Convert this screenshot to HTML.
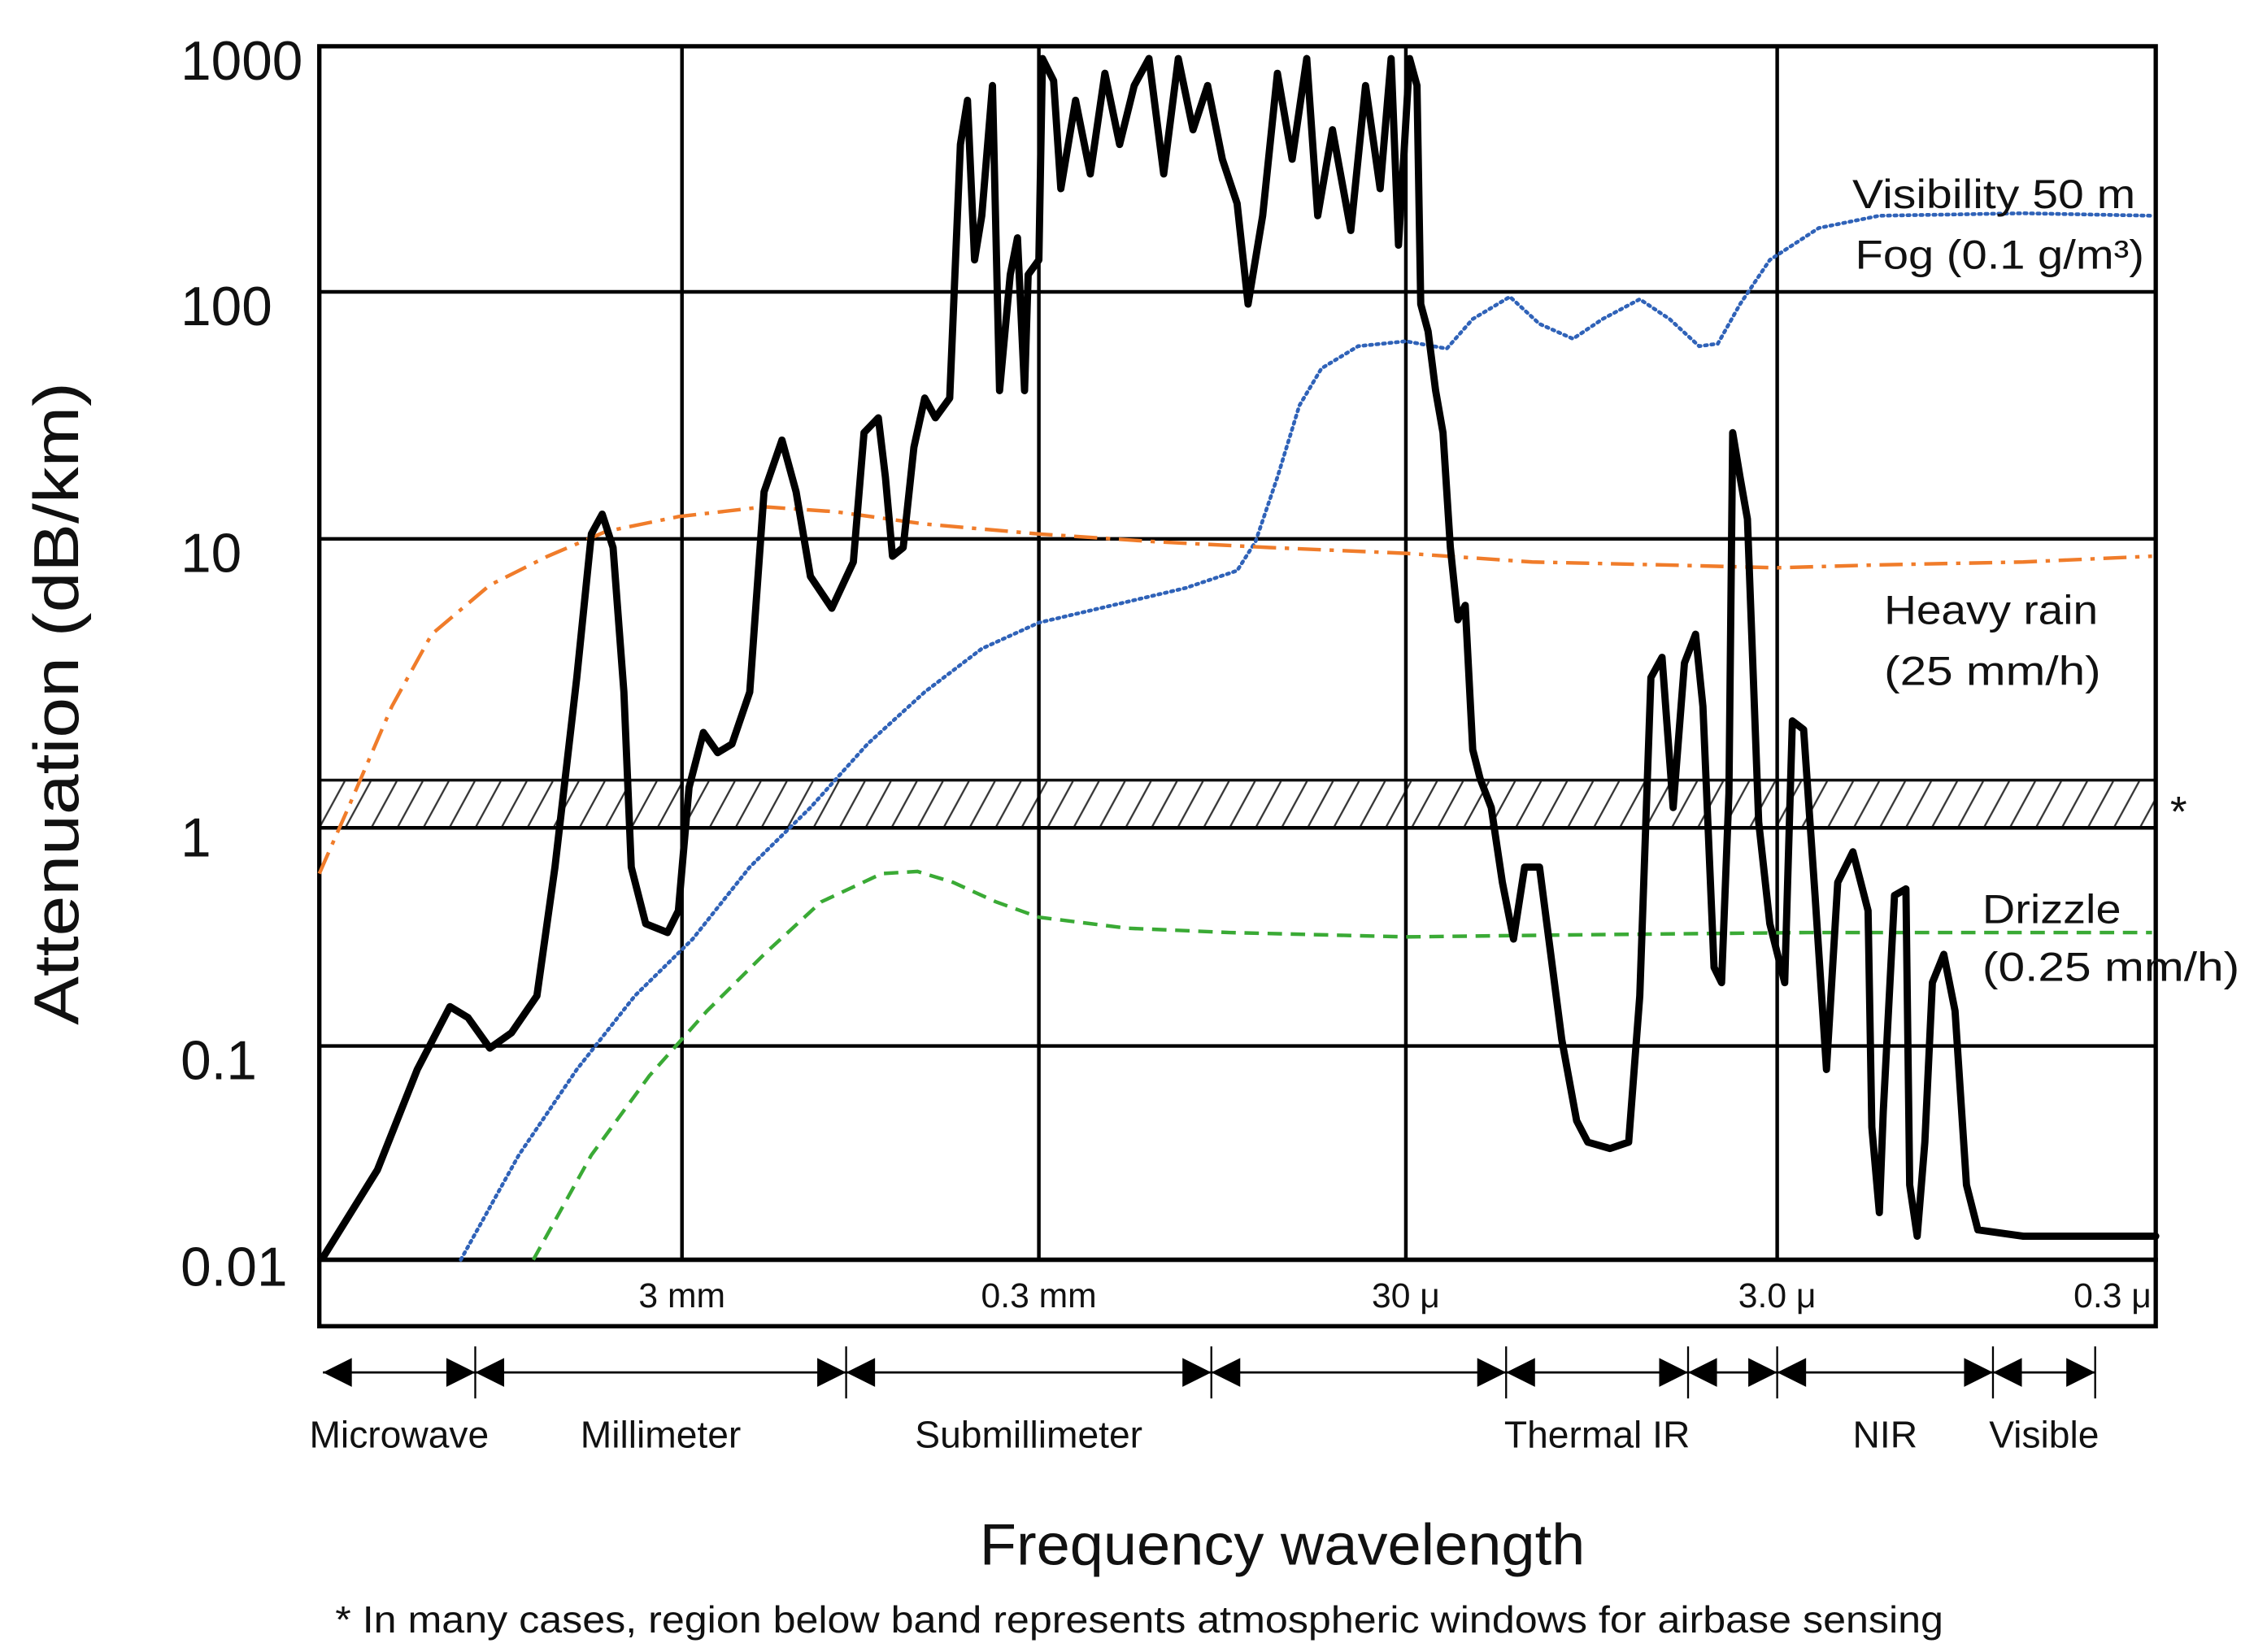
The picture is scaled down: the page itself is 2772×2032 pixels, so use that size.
<!DOCTYPE html>
<html><head><meta charset="utf-8"><style>
html,body{margin:0;padding:0;background:#fff;}
svg{display:block;}
text{font-family:"Liberation Sans",sans-serif;fill:#111;}
</style></head><body>
<svg id="chart" width="2772" height="2032" viewBox="0 0 1560 1143.5" xmlns="http://www.w3.org/2000/svg">
<defs>
<pattern id="hatch" patternUnits="userSpaceOnUse" width="18" height="33" x="221" y="540">
<line x1="0" y1="33" x2="18" y2="0" stroke="#333" stroke-width="1.3"/>
</pattern>
</defs>
<g id="grid"></g>
<g id="series"></g>
<g id="labels"></g>
</svg>
<script>
// Axis data
const yTickValues = [1000, 100, 10, 1, 0.1, 0.01];
const yTickLabels = ["1000", "100", "10", "1", "0.1", "0.01"];
const xTickPositions = [1, 2, 3, 4, 5];
const xTickLabels = ["3 mm", "0.3 mm", "30 \u03bc", "3.0 \u03bc", "0.3 \u03bc"];
const bandNames = ["Microwave", "Millimeter", "Submillimeter", "", "Thermal IR", "", "NIR", "Visible"];
const bandEdges = [0.01, 0.43, 1.46, 2.47, 3.27, 3.76, 4.0, 4.57, 4.84];

// Series (u = wavelength-axis position, values = log10 attenuation in dB/km)
const gasU = [0.01,0.16,0.27,0.36,0.41,0.47,0.53,0.60,0.65,0.71,0.75,0.78,0.81,0.84,0.86,0.90,0.96,0.99,1.02,1.06,1.10,1.14,1.19,1.23,1.28,1.32,1.36,1.42,1.48,1.51,1.55,1.57,1.59,1.62,1.65,1.68,1.71,1.75,1.78,1.80,1.82,1.84,1.87,1.89,1.92,1.94,1.96,1.97,2.00,2.01,2.04,2.06,2.10,2.14,2.18,2.22,2.26,2.30,2.34,2.38,2.42,2.46,2.50,2.54,2.57,2.61,2.65,2.69,2.73,2.76,2.80,2.85,2.89,2.93,2.96,2.98,3.01,3.03,3.04,3.06,3.08,3.10,3.12,3.14,3.16,3.18,3.20,3.23,3.26,3.29,3.32,3.36,3.42,3.46,3.49,3.55,3.60,3.63,3.66,3.69,3.72,3.75,3.78,3.80,3.83,3.85,3.87,3.88,3.90,3.92,3.95,3.98,4.02,4.04,4.07,4.10,4.13,4.16,4.20,4.24,4.25,4.27,4.28,4.31,4.34,4.35,4.37,4.39,4.41,4.44,4.47,4.50,4.53,4.65,5.0];
const gasLog = [-1.99,-1.58,-1.11,-0.82,-0.87,-1.01,-0.94,-0.77,-0.18,0.52,1.02,1.10,0.97,0.47,-0.18,-0.44,-0.48,-0.38,0.14,0.33,0.26,0.29,0.47,1.19,1.40,1.19,0.87,0.76,0.92,1.43,1.49,1.25,0.94,0.97,1.37,1.57,1.49,1.57,2.60,2.78,2.13,2.31,2.84,1.60,2.07,2.22,1.60,2.07,2.13,2.95,2.86,2.42,2.78,2.48,2.89,2.60,2.84,2.95,2.48,2.95,2.66,2.84,2.54,2.36,1.95,2.31,2.89,2.54,2.95,2.31,2.66,2.25,2.84,2.42,2.95,2.19,2.95,2.84,1.95,1.84,1.60,1.43,0.97,0.72,0.77,0.27,0.17,0.07,-0.25,-0.51,-0.18,-0.18,-0.97,-1.35,-1.45,-1.48,-1.45,-0.77,0.52,0.59,0.07,0.57,0.67,0.42,-0.64,-0.71,0.12,1.43,1.25,1.08,0.02,-0.44,-0.71,0.37,0.34,-0.31,-1.11,-0.25,-0.11,-0.38,-1.38,-1.78,-1.31,-0.31,-0.28,-1.65,-1.89,-1.45,-0.71,-0.58,-0.84,-1.65,-1.86,-1.89,-1.89];
const rainU = [0,0.08,0.20,0.31,0.47,0.63,0.79,0.99,1.23,1.43,1.68,2.00,2.32,2.63,3.0,3.34,3.69,4.0,4.27,4.65,4.99];
const rainLog = [-0.21,0.07,0.42,0.67,0.84,0.94,1.03,1.09,1.13,1.11,1.06,1.02,0.99,0.97,0.95,0.92,0.91,0.90,0.91,0.92,0.94];
const fogU = [0.39,0.55,0.71,0.87,1.03,1.19,1.36,1.52,1.68,1.84,2.00,2.20,2.40,2.54,2.59,2.65,2.71,2.77,2.87,3.0,3.11,3.18,3.28,3.36,3.45,3.53,3.63,3.71,3.79,3.84,3.90,3.98,4.11,4.27,4.65,4.99];
const fogLog = [-2,-1.51,-1.11,-0.77,-0.51,-0.18,0.07,0.29,0.47,0.62,0.71,0.77,0.83,0.89,0.99,1.25,1.54,1.69,1.78,1.80,1.77,1.89,1.98,1.87,1.81,1.89,1.97,1.89,1.78,1.79,1.95,2.13,2.26,2.31,2.32,2.31];
const drizzleU = [0.59,0.75,0.91,1.07,1.23,1.39,1.56,1.66,1.76,1.88,2.0,2.24,2.52,3.0,3.49,4.08,4.99];
const drizzleLog = [-2,-1.51,-1.14,-0.84,-0.58,-0.34,-0.21,-0.20,-0.25,-0.34,-0.41,-0.46,-0.48,-0.50,-0.49,-0.48,-0.48];

// Axis geometry (hand-drawn, piecewise)
const GX = [221, 472, 719, 973, 1230, 1492];
const GY = [872, 724, 573, 373, 202, 32]; // log10 -2..3
function xs(u){ u=Math.max(0,Math.min(5,u)); const i=Math.min(4,Math.floor(u)); return GX[i]+(u-i)*(GX[i+1]-GX[i]); }
function ys(l){ const t=l+2; const c=Math.max(0,Math.min(5,t)); const i=Math.min(4,Math.floor(c)); return GY[i]+(c-i)*(GY[i+1]-GY[i]); }
const NS="http://www.w3.org/2000/svg";
function mk(tag, attrs, parent){ const e=document.createElementNS(NS,tag); for(const k in attrs) e.setAttribute(k,attrs[k]); parent.appendChild(e); return e; }
const grid=document.getElementById('grid'), ser=document.getElementById('series'), lab=document.getElementById('labels');

// hatched band
let band=mk('rect',{x:221,y:540,width:1271,height:33,fill:'url(#hatch)',stroke:'#111','stroke-width':2},grid);


// horizontal grid lines
yTickValues.forEach((v,i)=>{
  const y=ys(Math.log10(v));
  const l=mk('line',{x1:221,x2:1492,y1:y,y2:y,stroke:'#000','stroke-width':2.5},grid);
  
  
  const t=mk('text',{x:125,y:y+(i===0?23:i===3?20:i===5?18:23),'font-size':38},lab);
  t.textContent=yTickLabels[i];
  
  
});
// vertical grid lines
xTickPositions.forEach((u,i)=>{
  const x=xs(u);
  if(u<5){
    const l=mk('line',{x1:x,x2:x,y1:32,y2:872,stroke:'#000','stroke-width':2.5},grid);
    
    
  }
  const t=mk('text',{x:(u<5?x:x-3),y:905,'font-size':24,'text-anchor':(u<5?'middle':'end')},lab);
  t.textContent=xTickLabels[i];
  
  
});
let frame=mk('rect',{x:221,y:32,width:1271,height:840,fill:'none',stroke:'#000','stroke-width':3},grid);


let wbox=mk('rect',{x:221,y:872,width:1271,height:46,fill:'none',stroke:'#000','stroke-width':3},grid);



function path(U,L,attrs,name){
  let d=''; U.forEach((u,i)=>{ d+=(i?'L':'M')+xs(u).toFixed(1)+' '+ys(L[i]).toFixed(1); });
  attrs.d=d; attrs.fill='none';
  const p=mk('path',attrs,ser);
  
  
}
path(drizzleU,drizzleLog,{stroke:'#3aaa35','stroke-width':2.5,'stroke-dasharray':'10 6'},'drizzle-line');
path(fogU,fogLog,{stroke:'#2f62b8','stroke-width':2.6,'stroke-dasharray':'1.5 3','stroke-linecap':'round'},'fog-line');
path(rainU,rainLog,{stroke:'#f07c2a','stroke-width':2.5,'stroke-dasharray':'16 6 3 6'},'heavy-rain-line');
path(gasU,gasLog,{stroke:'#000','stroke-width':5,'stroke-linejoin':'round','stroke-linecap':'round'},'atmospheric-gas-line');

// band arrows
const ay=950;
for(let i=0;i<bandEdges.length-1;i++){
  const x1=xs(bandEdges[i]), x2=xs(bandEdges[i+1]);
  const l=mk('line',{x1:x1,x2:x2,y1:ay,y2:ay,stroke:'#000','stroke-width':1.5},lab);
  
  
  const a1=mk('polygon',{points:`${x1},${ay} ${x1+20},${ay-10} ${x1+20},${ay+10}`,fill:'#000'},lab);
  
  
  const a2=mk('polygon',{points:`${x2},${ay} ${x2-20},${ay-10} ${x2-20},${ay+10}`,fill:'#000'},lab);
  
  
  if(i>0){
    const tk=mk('line',{x1:x1,x2:x1,y1:ay-18,y2:ay+18,stroke:'#000','stroke-width':1.3},lab);
    
    
  }
  if(bandNames[i]){
    const t=mk('text',{x:(x1+x2)/2,y:1002,'font-size':26,'text-anchor':'middle'},lab);
    t.textContent=bandNames[i];
    
    
  }
}
{ const x=xs(bandEdges[bandEdges.length-1]);
  const tk=mk('line',{x1:x,x2:x,y1:ay-18,y2:ay+18,stroke:'#000','stroke-width':1.3},lab);
  
   }
</script>
<svg style="position:absolute;left:0;top:0" width="2772" height="2032" viewBox="0 0 1560 1143.5" xmlns="http://www.w3.org/2000/svg">
<text x="0" y="0" font-size="44" text-anchor="middle" transform="translate(54,487) rotate(-90)" textLength="445" lengthAdjust="spacingAndGlyphs">Attenuation (dB/km)</text>
<text x="678" y="1083" font-size="40" textLength="419" lengthAdjust="spacingAndGlyphs">Frequency wavelength</text>
<text x="232" y="1130" font-size="26" textLength="1113" lengthAdjust="spacingAndGlyphs">* In many cases, region below band represents atmospheric windows for airbase sensing</text>
<text x="1282" y="144" font-size="28" textLength="196" lengthAdjust="spacingAndGlyphs">Visibility 50 m</text>
<text x="1284" y="186" font-size="28" textLength="200" lengthAdjust="spacingAndGlyphs">Fog (0.1 g/m³)</text>
<text x="1304" y="432" font-size="28" textLength="148" lengthAdjust="spacingAndGlyphs">Heavy rain</text>
<text x="1304" y="474" font-size="28" textLength="150" lengthAdjust="spacingAndGlyphs">(25 mm/h)</text>
<text x="1372" y="639" font-size="28" textLength="96" lengthAdjust="spacingAndGlyphs">Drizzle</text>
<text x="1372" y="679" font-size="28" textLength="178" lengthAdjust="spacingAndGlyphs">(0.25 mm/h)</text>
<text x="1502" y="572" font-size="30">*</text>
</svg>
</body></html>
